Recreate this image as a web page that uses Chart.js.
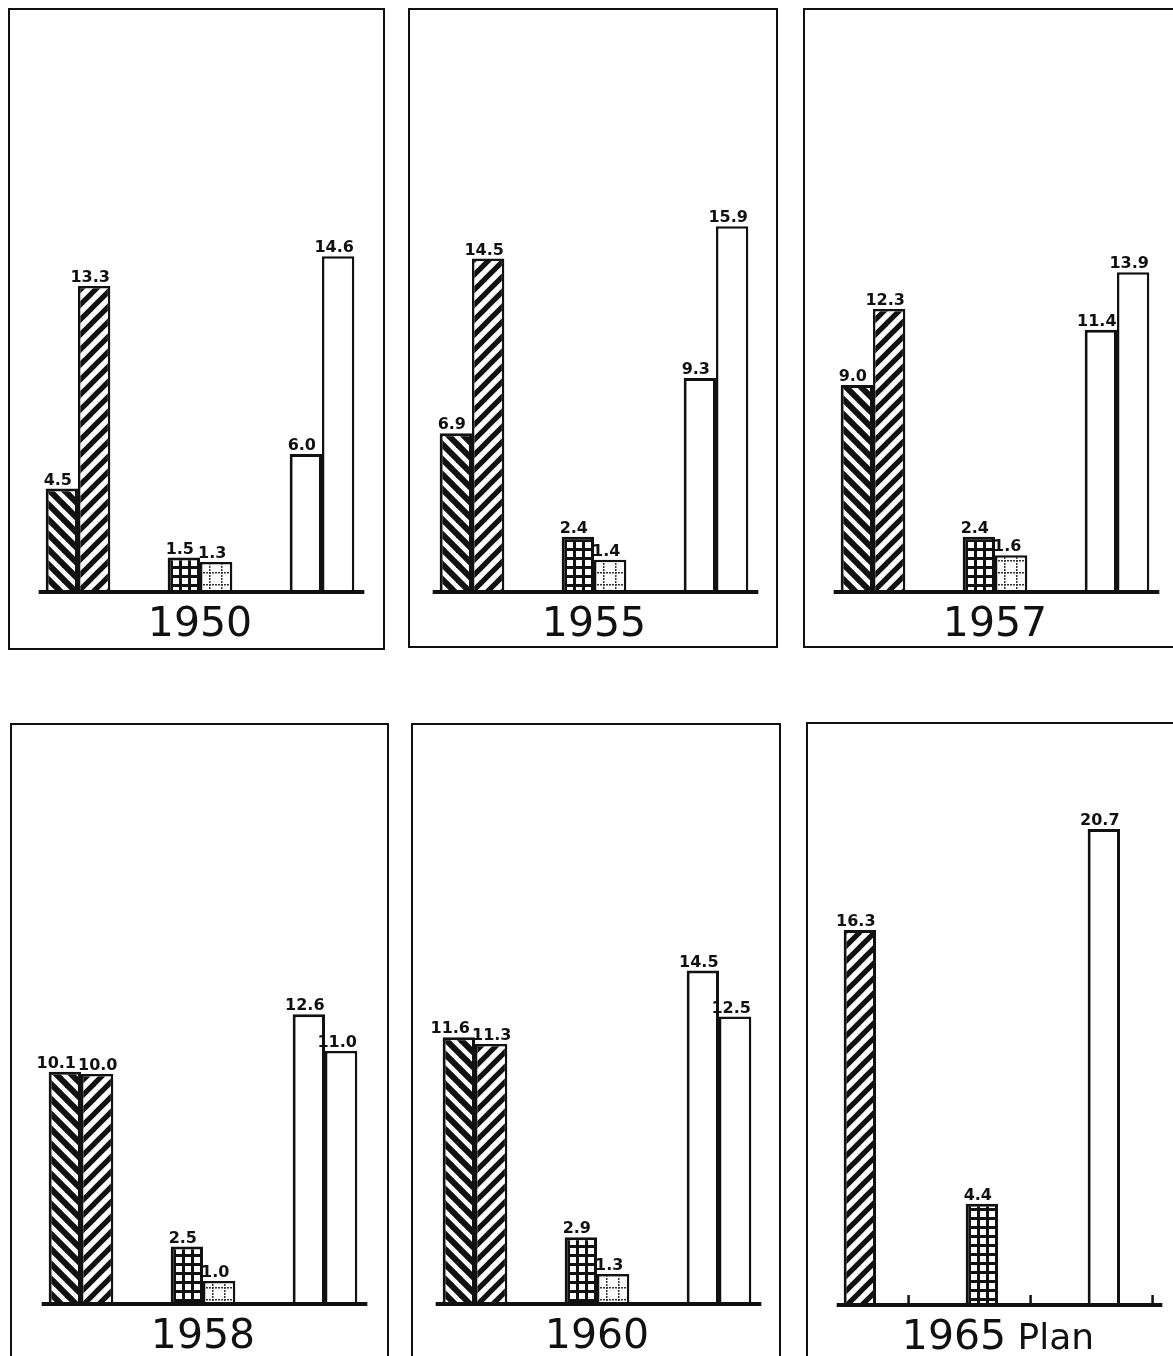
<!DOCTYPE html>
<html>
<head>
<meta charset="utf-8">
<script src="https://cdn.jsdelivr.net/npm/chart.js@4.4.1/dist/chart.umd.min.js"></script>
<style>
    html, body { margin: 0; padding: 0; width: 1173px; height: 1356px; overflow: hidden; background: #fff; }
    .box { position: absolute; border: 2px solid #111; box-sizing: border-box; }
    .plot { position: absolute; }
</style>
</head>
<body>
<script>
// Panel titles and values
const panelTitles = ['1950', '1955', '1957', '1958', '1960', '1965 Plan'];
const groups = ['Hatched', 'Checked', 'Plain'];
const firstBars = [
    [4.5, 1.5, 6.0],
    [6.9, 2.4, 9.3],
    [9.0, 2.4, 11.4],
    [10.1, 2.5, 12.6],
    [11.6, 2.9, 14.5],
    [16.3, 4.4, 20.7]
];
const secondBars = [
    [13.3, 1.3, 14.6],
    [14.5, 1.4, 15.9],
    [12.3, 1.6, 13.9],
    [10.0, 1.0, 11.0],
    [11.3, 1.3, 12.5],
    [null, null, null]
];

const Y_MAX = 25;
const PX_PER_UNIT = 23;
const PLOT_WIDTH = 366;
const GROUP_PCT = 0.53;

// box = [left, top, right, bottom], plotLeft = left edge of chart area, base = baseline y
const panels = [
    { box: [8, 8, 385, 650], plotLeft: 17, base: 592 },
    { box: [408, 8, 778, 648], plotLeft: 411, base: 592 },
    { box: [803, 8, 1182, 648], plotLeft: 812, base: 592 },
    { box: [10, 723, 389, 1362], plotLeft: 20, base: 1304 },
    { box: [411, 723, 781, 1362], plotLeft: 414, base: 1304 },
    { box: [806, 722, 1182, 1362], plotLeft: 815, base: 1305 }
];

// Fill patterns
function stripes(dir, lw) {
    const s = 15;
    const c = document.createElement('canvas');
    c.width = s; c.height = s;
    const g = c.getContext('2d');
    g.fillStyle = '#fff';
    g.fillRect(0, 0, s, s);
    g.strokeStyle = '#111';
    g.lineWidth = lw;
    for (let k = -2; k <= 2; k++) {
        g.beginPath();
        if (dir === 'back') {
            g.moveTo(k * s - s, -s);
            g.lineTo(k * s + 2 * s, 2 * s);
        } else {
            g.moveTo(k * s - s, 2 * s);
            g.lineTo(k * s + 2 * s, -s);
        }
        g.stroke();
    }
    return g.createPattern(c, 'repeat');
}

function gridFill(p, lw, dashed) {
    const c = document.createElement('canvas');
    c.width = p; c.height = p;
    const g = c.getContext('2d');
    g.fillStyle = '#fff';
    g.fillRect(0, 0, p, p);
    if (dashed) {
        g.fillStyle = '#333';
        for (let i = 0; i < p; i += 3) {
            g.fillRect(i, 0, 2, lw);
            g.fillRect(0, i, lw, 2);
        }
    } else {
        g.fillStyle = '#111';
        g.fillRect(0, 0, p, lw);
        g.fillRect(0, 0, lw, p);
    }
    return g.createPattern(c, 'repeat');
}

const backHatch = stripes('back', 6);
const slashHatch = stripes('slash', 5.2);
const gridDense = gridFill(9, 3, false);
const gridSparse = gridFill(12, 1.5, true);

const labelFont = 'bold 16px "DejaVu Sans"';

const panelDecor = {
    id: 'panelDecor',
    afterDatasetsDraw(chart) {
        const ctx = chart.ctx;
        const area = chart.chartArea;
        const xs = chart.scales.x;
        const slot = xs.width / groups.length;
        const groupW = slot * GROUP_PCT;
        const single = chart.data.datasets[1].data.every(v => v === null);

        // baseline
        const first = chart.getDatasetMeta(0).data[0];
        const x0 = first.x - first.width / 2 - 7;
        const x1 = xs.getPixelForValue(groups.length - 1) + groupW / 2 + 10;
        ctx.save();
        ctx.fillStyle = '#111';
        ctx.fillRect(x0, area.bottom - 2, x1 - x0, 4);
        if (single) {
            for (let i = 0; i < groups.length; i++) {
                const tx = xs.getPixelForValue(i) + groupW / 2;
                ctx.fillRect(tx - 1, area.bottom - 10, 2.5, 10);
            }
        }

        // value labels
        ctx.font = labelFont;
        ctx.textBaseline = 'alphabetic';
        ctx.textAlign = 'left';
        for (let i = 0; i < groups.length; i++) {
            const boxes = [];
            chart.data.datasets.forEach((ds, d) => {
                const v = ds.data[i];
                if (v === null) return;
                const bar = chart.getDatasetMeta(d).data[i];
                const txt = v.toFixed(1);
                const w = ctx.measureText(txt).width;
                boxes.push({ txt, w, x: bar.x - 4 - w / 2, y: bar.y - 4 });
            });
            if (boxes.length === 2) {
                const [a, b] = boxes;
                const over = a.x + a.w + 2 - b.x;
                if (over > 0 && Math.abs(a.y - b.y) < 16) {
                    a.x -= over / 2;
                    b.x += over / 2;
                }
            }
            boxes.forEach(b => ctx.fillText(b.txt, b.x, b.y));
        }

        // panel title
        const parts = chart.options.plugins.panelDecor.title.split(' ');
        const big = '41px "DejaVu Sans"';
        const small = '36px "DejaVu Sans"';
        ctx.font = big;
        const wBig = ctx.measureText(parts[0]).width;
        let wSmall = 0;
        if (parts[1]) {
            ctx.font = small;
            wSmall = ctx.measureText(' ' + parts[1]).width;
        }
        const cx = (area.left + area.right) / 2;
        const ty = area.bottom + 44;
        let tx = cx - (wBig + wSmall) / 2;
        ctx.font = big;
        ctx.fillText(parts[0], tx, ty);
        if (parts[1]) {
            ctx.font = small;
            ctx.fillText(' ' + parts[1], tx + wBig, ty);
        }
        ctx.restore();
    }
};

panels.forEach((p, i) => {
    const [l, t, r, b] = p.box;
    const box = document.createElement('div');
    box.className = 'box';
    box.style.left = l + 'px';
    box.style.top = t + 'px';
    box.style.width = (r - l) + 'px';
    box.style.height = (b - t) + 'px';
    document.body.appendChild(box);

    const wrap = document.createElement('div');
    wrap.className = 'plot';
    wrap.style.left = p.plotLeft + 'px';
    wrap.style.top = t + 'px';
    wrap.style.width = PLOT_WIDTH + 'px';
    wrap.style.height = (b - t) + 'px';
    const canvas = document.createElement('canvas');
    wrap.appendChild(canvas);
    document.body.appendChild(wrap);

    const single = secondBars[i].every(v => v === null);
    const fillsA = single ? [slashHatch, gridDense, '#fff'] : [backHatch, gridDense, '#fff'];
    const fillsB = [slashHatch, gridSparse, '#fff'];

    new Chart(canvas, {
        type: 'bar',
        data: {
            labels: groups,
            datasets: [{
                label: 'first',
                data: firstBars[i],
                backgroundColor: fillsA,
                borderColor: '#111',
                borderWidth: 3,
                categoryPercentage: GROUP_PCT,
                barPercentage: 1
            }, {
                label: 'second',
                data: secondBars[i],
                backgroundColor: fillsB,
                borderColor: '#111',
                borderWidth: 2.5,
                categoryPercentage: GROUP_PCT,
                barPercentage: 1
            }]
        },
        options: {
            responsive: true,
            maintainAspectRatio: false,
            animation: false,
            events: [],
            layout: {
                padding: { top: p.base - Y_MAX * PX_PER_UNIT - t, bottom: b - p.base, left: 0, right: 0 }
            },
            scales: {
                x: { display: false },
                y: { display: false, min: 0, max: Y_MAX }
            },
            plugins: {
                legend: { display: false },
                tooltip: { enabled: false },
                panelDecor: { title: panelTitles[i] }
            }
        },
        plugins: [panelDecor]
    });
});
</script>
</body>
</html>
